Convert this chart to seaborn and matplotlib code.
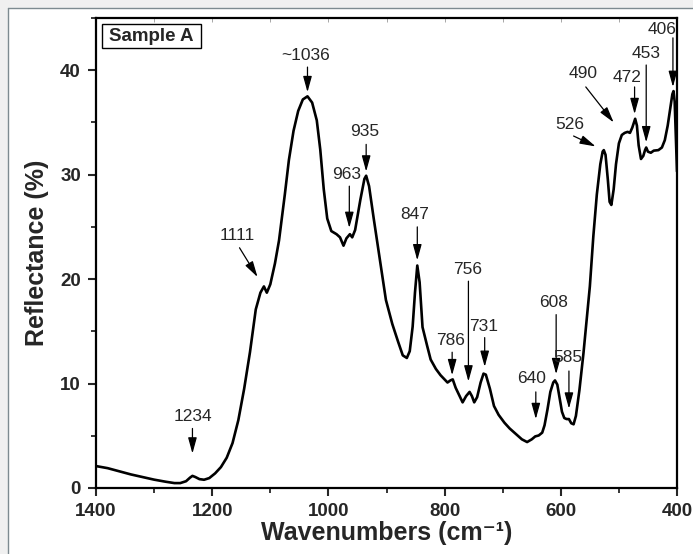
import seaborn as sns
import matplotlib.pyplot as plt
from matplotlib.patches import Rectangle
from matplotlib.lines import Line2D
from matplotlib.ticker import MultipleLocator

# spectrum
wavenumber = [1400, 1380, 1360, 1340, 1320, 1300, 1280, 1265, 1255, 1245,
              1238, 1234, 1229, 1222, 1214, 1205, 1195, 1185, 1175, 1165,
              1155, 1145, 1135, 1125, 1117, 1111, 1106, 1100, 1092, 1085,
              1075, 1068, 1060, 1052, 1044, 1036, 1028, 1020, 1014, 1008,
              1002, 995, 986, 980, 974, 969, 963, 959, 954, 945,
              938, 935, 930, 922, 914, 901, 890, 880, 872, 865,
              860, 855, 851, 847, 843, 838, 830, 824, 815, 807,
              795, 790, 786, 781, 775, 769, 763, 757, 753, 749,
              744, 738, 733, 729, 722, 715, 707, 697, 688, 680,
              667, 658, 650, 644, 638, 632, 628, 623, 618, 613,
              610, 606, 602, 598, 594, 590, 586, 582, 578, 574,
              568, 561, 555, 550, 544, 538, 532, 528, 526, 523,
              519, 516, 513, 509, 505, 500, 495, 490, 485, 481,
              477, 472, 469, 466, 462, 458, 455, 453, 450, 445,
              440, 432, 426, 421, 416, 411, 408, 406, 404, 402, 400]
reflectance = [2.1, 1.9, 1.6, 1.3, 1.05, 0.8, 0.6, 0.47, 0.47, 0.65,
               1.0, 1.16, 1.05, 0.85, 0.79, 0.95, 1.4, 2.0, 2.9, 4.3,
               6.5, 9.5, 13.0, 17.1, 18.7, 19.3, 18.7, 19.5, 21.5, 23.7,
               28.1, 31.4, 34.2, 36.1, 37.2, 37.5, 36.9, 35.2, 32.4, 28.6,
               25.8, 24.6, 24.3, 24.0, 23.2, 23.9, 24.3, 24.0, 24.7, 27.6,
               29.6, 29.9, 28.9, 25.8, 22.8, 18.0, 15.7, 14.0, 12.7, 12.45,
               13.1, 15.45, 18.7, 21.3, 19.7, 15.4, 13.6, 12.3, 11.4, 10.8,
               10.1, 10.3, 10.4, 9.6, 8.9, 8.2, 8.8, 9.2, 8.8, 8.2,
               8.7, 10.1, 10.95, 10.85, 9.5, 7.85, 7.0, 6.25, 5.7, 5.3,
               4.66, 4.4, 4.66, 4.94, 5.03, 5.3, 6.0, 7.5, 9.2, 10.1,
               10.3, 9.9, 8.6, 7.3, 6.7, 6.6, 6.6, 6.2, 6.1, 6.9,
               9.35, 12.9, 16.4, 19.3, 24.1, 28.1, 31.0, 32.2, 32.35, 31.9,
               29.5, 27.4, 27.1, 28.6, 31.0, 33.0, 33.8, 34.0, 34.1, 34.0,
               34.5, 35.35, 34.7, 32.8, 31.5, 31.8, 32.35, 32.6, 32.2, 32.1,
               32.3, 32.35, 32.6, 33.3, 34.7, 36.6, 37.7, 38.0, 37.0, 33.8, 30.3]

# peak labels: text, arrow tip, arrow tail, text centre
peaks = [
    ('~1036', (1036, 37.9), (1036, 40.3), (1040, 41.4)),
    ('1111', (1122, 20.2), (1153, 23.0), (1157, 24.2)),
    ('963', (964, 24.9), (964, 28.9), (969, 30.0)),
    ('935', (935, 30.3), (935, 32.9), (937, 34.1)),
    ('847', (847, 21.8), (847, 25.0), (851, 26.2)),
    ('786', (787, 10.8), (787, 13.0), (789, 14.1)),
    ('756', (759, 10.2), (759, 19.8), (760, 20.9)),
    ('731', (731, 11.6), (731, 14.4), (733, 15.5)),
    ('640', (643, 6.6), (643, 9.2), (650, 10.5)),
    ('608', (608, 10.9), (608, 16.6), (613, 17.8)),
    ('585', (586, 7.6), (586, 11.2), (587, 12.5)),
    ('526', (540, 32.7), (578, 33.7), (585, 34.8)),
    ('490', (509, 35.0), (557, 38.4), (561, 39.7)),
    ('472', (473, 35.8), (473, 38.4), (486, 39.3)),
    ('453', (453, 33.1), (453, 40.5), (453, 41.6)),
    ('406', (407, 38.4), (407, 43.1), (426, 43.9)),
    ('1234', (1234, 3.3), (1234, 5.7), (1234, 6.8)),
]

sns.set_theme(style='ticks')
plt.rcParams['font.family'] = ['Liberation Sans', 'DejaVu Sans']

W, H = 693, 554
fig = plt.figure(figsize=(W / 100, H / 100), dpi=100, facecolor='#f0f0f0')
# white panel with grey edge on left and top
fig.patches.append(Rectangle((8 / W, 0), 1, 1 - 8 / H, transform=fig.transFigure,
                             facecolor='white', edgecolor='none', zorder=-10))
fig.lines.append(Line2D([7.5 / W, 7.5 / W], [0, 1 - 7.5 / H], transform=fig.transFigure,
                        color='#7d8a90', lw=1))
fig.lines.append(Line2D([7.5 / W, 1], [1 - 7.5 / H, 1 - 7.5 / H], transform=fig.transFigure,
                        color='#7d8a90', lw=1))

ax = fig.add_axes([96 / W, 1 - 488 / H, (677 - 96) / W, (488 - 18) / H])
ax.set_facecolor('white')
sns.lineplot(x=wavenumber, y=reflectance, ax=ax, color='black', lw=1.9)

ax.set_xlim(1400, 400)
ax.set_ylim(0, 45)
ax.xaxis.set_major_locator(MultipleLocator(200))
ax.xaxis.set_minor_locator(MultipleLocator(100))
ax.yaxis.set_major_locator(MultipleLocator(10))
ax.yaxis.set_minor_locator(MultipleLocator(5))
ax.tick_params(which='major', direction='out', length=5.8, width=1.5, labelsize=13.5, pad=5)
ax.tick_params(which='minor', direction='out', length=3.3, width=1.3)
for lab in ax.get_xticklabels() + ax.get_yticklabels():
    lab.set_fontweight('bold')
for s in ax.spines.values():
    s.set_linewidth(1.6)
    s.set_color('black')

top = ax.secondary_xaxis('top')
top.xaxis.set_major_locator(MultipleLocator(100))
top.tick_params(direction='in', length=3, width=0.6, colors='#999999', labeltop=False)
top.spines['top'].set_visible(False)

ax.set_xlabel('Wavenumbers (cm\u207b\u00b9)', fontsize=18, fontweight='bold', labelpad=1)
ax.set_ylabel('Reflectance (%)', fontsize=18, fontweight='bold', labelpad=8)

# "Sample A" box
ax.add_patch(Rectangle((0.0103, 0.936), 0.1704, 0.051, transform=ax.transAxes,
                       facecolor='white', edgecolor='black', lw=1.0, zorder=5))
ax.text(0.0955, 0.9615, 'Sample A', transform=ax.transAxes, ha='center', va='center',
        fontsize=13.5, fontweight='bold', zorder=6)

for text, tip, tail, pos in peaks:
    ax.annotate('', xy=tip, xytext=tail,
                arrowprops=dict(arrowstyle='-|>,head_length=0.8,head_width=0.22',
                                color='black', lw=0.9, shrinkA=0, shrinkB=0))
    ax.text(pos[0], pos[1], text, ha='center', va='center', fontsize=12.5)

fig.savefig('out.png', dpi=100, facecolor=fig.get_facecolor())
